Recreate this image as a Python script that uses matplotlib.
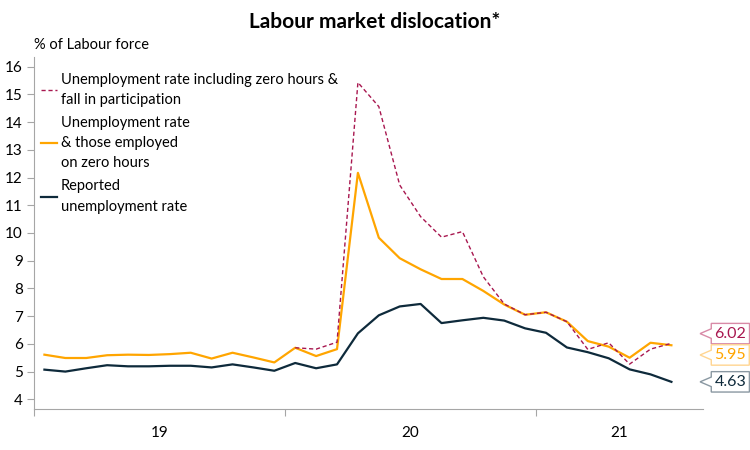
import numpy as np
import matplotlib
matplotlib.use("Agg")
import matplotlib.pyplot as plt
from matplotlib.path import Path

plt.rcParams["font.family"] = ["Lato", "DejaVu Sans"]

# monthly, Jan 2019 .. Jul 2021 (axis runs to Aug 2021)
years = ["19", "20", "21"]
months_per_year = [12, 12, 8]

reported = [5.07, 5.00, 5.12, 5.23, 5.19, 5.19, 5.21, 5.21, 5.15, 5.26, 5.15, 5.03,
            5.31, 5.12, 5.26, 6.38, 7.03, 7.35, 7.44, 6.75, 6.85, 6.94, 6.84, 6.56,
            6.40, 5.87, 5.70, 5.48, 5.08, 4.90, 4.63]
zero_hours = [5.61, 5.49, 5.49, 5.59, 5.61, 5.60, 5.63, 5.68, 5.47, 5.68, 5.51, 5.33,
              5.86, 5.56, 5.81, 12.17, 9.83, 9.09, 8.69, 8.34, 8.34, 7.91, 7.42, 7.05,
              7.14, 6.80, 6.10, 5.90, 5.50, 6.04, 5.95]
participation = [np.nan] * 12 + [
    5.86, 5.81, 6.06, 15.43, 14.56, 11.73, 10.59, 9.85, 10.05, 8.42, 7.44, 7.05,
    7.14, 6.80, 5.80, 6.04, 5.27, 5.81, 6.02]

end_labels = ["6.02", "5.95", "4.63"]

C_DASH = "#A8174F"
C_ORANGE = "#FFA500"
C_NAVY = "#0E2A3B"
C_AXIS = "#A6A6A6"


def callout(x0, y0, width, height, mutation_size):
    # box with a small left-pointing notch
    pad = 0.2 * mutation_size
    x0, y0 = x0 - pad, y0 - pad
    x1, y1 = x0 + width + 2 * pad, y0 + height + 2 * pad
    ym = (y0 + y1) / 2
    h = 0.3 * mutation_size
    tip = 0.7 * mutation_size
    verts = [(x0, y0), (x1, y0), (x1, y1), (x0, y1), (x0, ym + h),
             (x0 - tip, ym), (x0, ym - h), (x0, y0), (x0, y0)]
    codes = [Path.MOVETO] + [Path.LINETO] * 7 + [Path.CLOSEPOLY]
    return Path(verts, codes)


fig = plt.figure(figsize=(7.5, 4.5), dpi=100)
ax = fig.add_axes([0.0453, 0.0911, 0.8917, 0.7829])

x = np.arange(len(reported))
ax.plot(x, reported, color=C_NAVY, lw=1.6, zorder=2,
        label="Reported\nunemployment rate")
ax.plot(x, zero_hours, color=C_ORANGE, lw=1.6, zorder=3,
        label="Unemployment rate\n& those employed\non zero hours")
ax.plot(x, participation, color=C_DASH, lw=1.0, ls=(0, (3, 2)), zorder=4,
        label="Unemployment rate including zero hours &\nfall in participation")

n_total = sum(months_per_year)
ax.set_xlim(-0.5, n_total - 0.5)
ax.set_ylim(3.65, 16.36)
ax.set_yticks(range(4, 17))
ax.tick_params(axis="y", length=5, color=C_AXIS, labelsize=11, pad=3)

bounds = np.cumsum([0] + months_per_year) - 0.5
ax.set_xticks(bounds[:-1])
ax.set_xticklabels([])
ax.set_xticks((bounds[:-1] + bounds[1:]) / 2, minor=True)
ax.set_xticklabels(years, minor=True)
ax.tick_params(axis="x", which="major", length=5, color=C_AXIS)
ax.tick_params(axis="x", which="minor", length=0, pad=12, labelsize=11)

for s in ["top", "right"]:
    ax.spines[s].set_visible(False)
for s in ["left", "bottom"]:
    ax.spines[s].set_color(C_AXIS)

handles, labels = ax.get_legend_handles_labels()
leg = ax.legend(handles[::-1], labels[::-1], loc="upper left",
                bbox_to_anchor=(0.01, 0.955), frameon=False, fontsize=10.5,
                handlelength=1.1, handletextpad=0.3, labelspacing=0.6,
                borderpad=0, borderaxespad=0)
for t in leg.get_texts():
    t.set_linespacing(1.58)

# end-of-line value labels
series = [participation, zero_hours, reported]
colors = [C_DASH, C_ORANGE, C_NAVY]
edges = ["#D88AA7", "#FFD591", "#8A98A2"]
nudges = [7, -7, 0]
for vals, txt, c, ec, dy in zip(series, end_labels, colors, edges, nudges):
    ax.annotate(txt, xy=(x[-1], vals[-1]), xytext=(31, dy),
                textcoords="offset points", ha="left", va="center",
                fontsize=11.5, color=c, annotation_clip=False,
                bbox=dict(boxstyle=callout, fc="white", ec=ec, lw=1.0))

fig.text(0.5, 0.951, "Labour market dislocation*", ha="center", va="center",
         fontsize=15, fontweight="bold")
fig.text(0.045, 0.9, "% of Labour force", ha="left", va="center", fontsize=10.5)

fig.savefig("out.png", dpi=100)
